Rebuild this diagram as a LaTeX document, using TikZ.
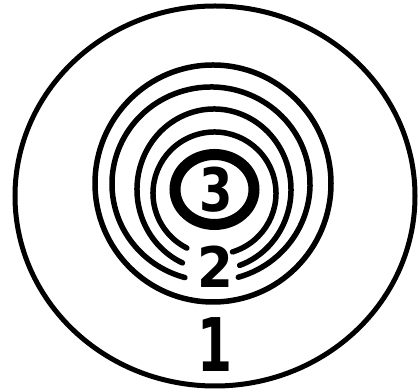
\documentclass[tikz,border=0pt]{standalone}
\usepackage{fontspec}
\setmainfont{DejaVu Sans}
\begin{document}
\begin{tikzpicture}[x=1pt,y=1pt,
  ring/.style={draw=black,line width=5.5pt,line cap=round},
  outerring/.style={draw=black,line width=5pt},
  thickring/.style={draw=black,line width=11pt},
  digit/.style={inner sep=0pt,font=\bfseries}]
\useasboundingbox (0,0) rectangle (418,390);
\fill[white] (0,0) rectangle (418,390);
% outer boundary (zone 1)
\draw[outerring] (215,194) ellipse [x radius=200, y radius=190];
% closed ring around zone 2
\draw[ring] (213,206.5) ellipse [x radius=118, y radius=118.5];
% open rings (gap at the bottom)
\draw[ring] (211,206) ++(286:99 and 97) arc [start angle=286, end angle=614.7, x radius=99, y radius=97];
\draw[ring] (214,200.5) ++(289.5:77 and 80.5) arc [start angle=289.5, end angle=605.8, x radius=77, y radius=80.5];
\draw[ring] (214.5,196.7) ++(287:61.5 and 61.3) arc [start angle=287, end angle=603.3, x radius=61.5, y radius=61.3];
% thick ring around zone 3
\draw[thickring] (214.5,200.5) ellipse [x radius=39.5, y radius=35];
% labels
\node[digit,xscale=0.8] (n3) at (216.5,200) {\fontsize{60}{60}\selectfont 3};
\node[digit,xscale=0.92] (n2) at (215,123) {\fontsize{56}{56}\selectfont 2};
\node[digit,xscale=0.68] (n1) at (215,45) {\fontsize{74}{74}\selectfont 1};
\end{tikzpicture}
\end{document}
